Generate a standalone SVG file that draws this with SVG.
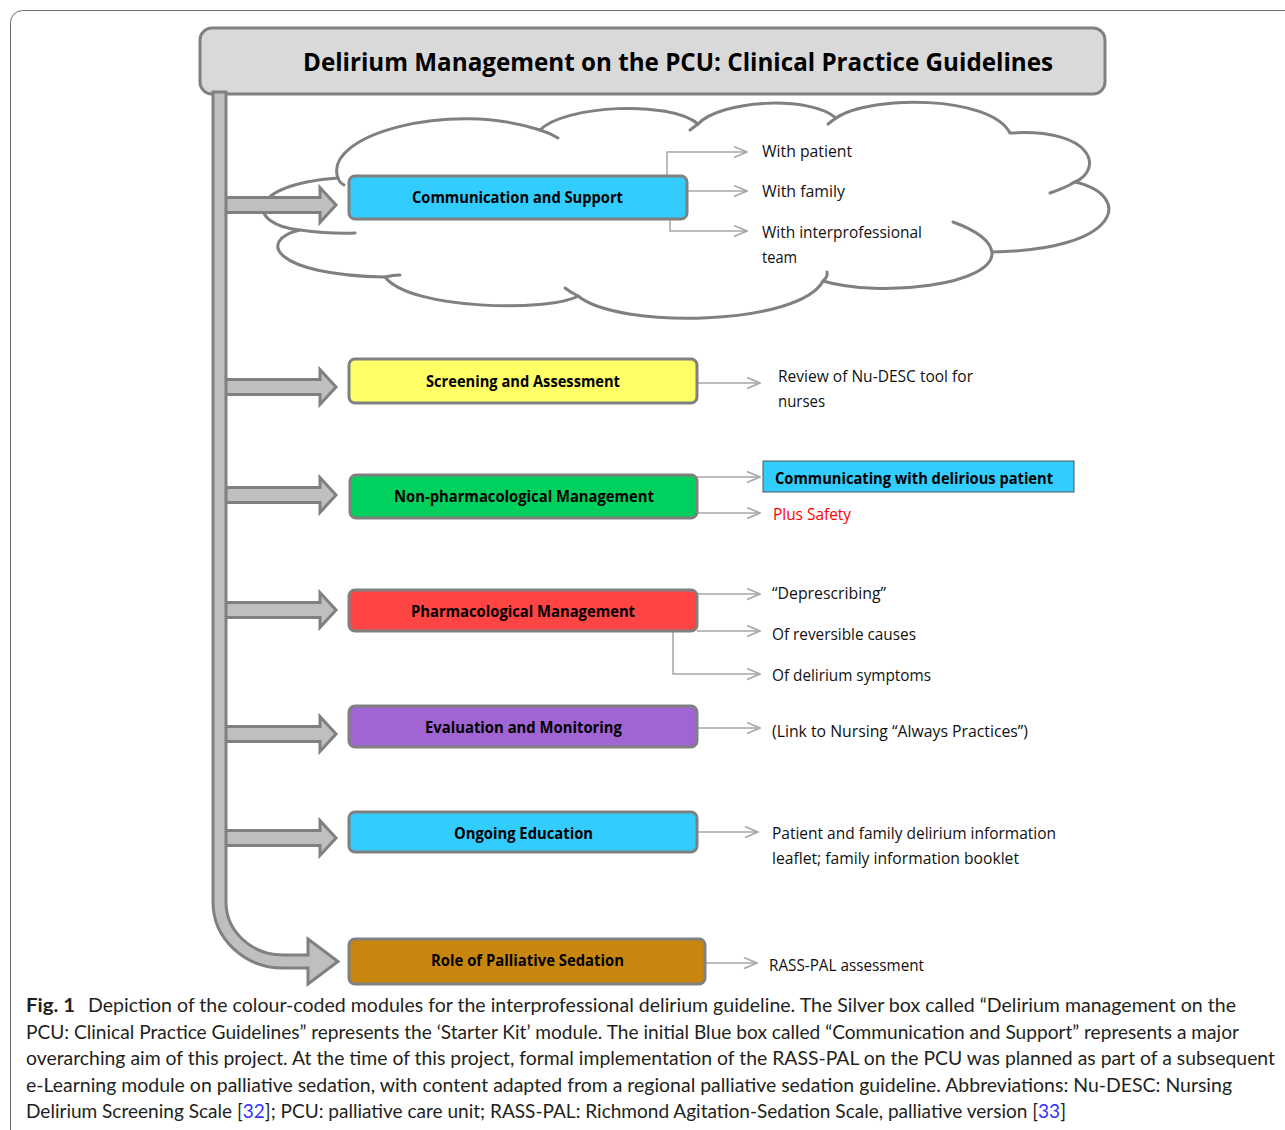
<svg xmlns="http://www.w3.org/2000/svg" width="1285" height="1130" viewBox="0 0 1285 1130">
<defs>
<style>
.box{stroke:#808080;stroke-width:3}
.lbl{font-family:"Open Sans","Liberation Sans",sans-serif;font-weight:700;font-size:15.5px;fill:#000}
.itm{font-family:"Open Sans","Liberation Sans",sans-serif;font-size:16px;fill:#111}
.cap{font-family:Lato,"Open Sans","Liberation Sans",sans-serif;font-size:19.5px;fill:#231f20}
.con{fill:none;stroke:#a6a6a6;stroke-width:1.5}
.cl{fill:none;stroke:#808080;stroke-width:3;stroke-linecap:round}
.arr{fill:#bfbfbf;stroke:#808080;stroke-width:3;stroke-linejoin:miter}
</style>
<marker id="chev" viewBox="0 0 15 13" refX="14" refY="6.5" markerWidth="15" markerHeight="13" markerUnits="userSpaceOnUse" orient="auto">
<path d="M1,1 L14,6.5 L1,12" fill="none" stroke="#a6a6a6" stroke-width="1.5"/>
</marker>
<polygon id="arrow" points="0,-7.5 96,-7.5 96,-17.5 112,0 96,17.5 96,7.5 0,7.5"/>
</defs>
<rect x="10.5" y="10.5" width="1320" height="1160" rx="12" fill="#fff" stroke="#6d6d6d" stroke-width="1"/>

<g id="cloud">
<path d="M 300 230 C 248 225, 243 185, 338 178 C 322 135, 450 100, 540 130 C 565 105, 670 100, 698 124 C 720 100, 810 95, 836 118 C 870 95, 990 95, 1010 133 C 1095 128, 1103 170, 1075 182 C 1133 195, 1123 250, 992 252 C 995 285, 880 298, 823 281 C 800 325, 620 330, 578 296 C 550 312, 410 310, 385 277 C 272 275, 257 240, 300 230 Z" fill="#fff" stroke="#808080" stroke-width="3"/>
<path class="cl" d="M 300 230 Q 330 234 355 233"/>
<path class="cl" d="M 338 178 Q 339 182 344 185"/>
<path class="cl" d="M 540 130 Q 550 133 558 138"/>
<path class="cl" d="M 698 124 Q 694 127 690 130"/>
<path class="cl" d="M 836 118 Q 832 121 828 124"/>
<path class="cl" d="M 1075 182 Q 1065 188 1050 193"/>
<path class="cl" d="M 953 222 C 975 230, 990 240, 992 252"/>
<path class="cl" d="M 823 281 Q 828 277 827 272"/>
<path class="cl" d="M 578 296 Q 570 292 565 288"/>
<path class="cl" d="M 385 277 Q 393 275 400 275"/>
</g>

<g id="title">
<rect x="200" y="28" width="905" height="66" rx="12" fill="#d9d9d9" stroke="#808080" stroke-width="3"/>
<text x="303" y="71" font-family="Open Sans, Liberation Sans, sans-serif" font-weight="700" font-size="25" textLength="750" lengthAdjust="spacingAndGlyphs" fill="#000">Delirium Management on the PCU: Clinical Practice Guidelines</text>
</g>

<g id="arrows">
<use href="#arrow" class="arr" x="224" y="205"/>
<use href="#arrow" class="arr" x="224" y="387"/>
<use href="#arrow" class="arr" x="224" y="495"/>
<use href="#arrow" class="arr" x="224" y="610"/>
<use href="#arrow" class="arr" x="224" y="734"/>
<use href="#arrow" class="arr" x="224" y="838"/>
</g>

<g id="spine">
<path class="arr" d="M 213 92 L 213 902 A 70 66 0 0 0 283 968 L 308 968 L 308 984 L 338 961.5 L 308 939 L 308 955 L 283 955 A 57 53 0 0 1 226 902 L 226 92 Z"/>
</g>

<g id="connectors">
<path class="con" marker-end="url(#chev)" d="M 667 176 V 152 H 747"/>
<path class="con" marker-end="url(#chev)" d="M 687 191 H 747"/>
<path class="con" marker-end="url(#chev)" d="M 670 219 V 231 H 747"/>
<path class="con" marker-end="url(#chev)" d="M 697 383 H 760"/>
<path class="con" marker-end="url(#chev)" d="M 697 477 H 760"/>
<path class="con" marker-end="url(#chev)" d="M 697 513 H 760"/>
<path class="con" marker-end="url(#chev)" d="M 697 594 H 760"/>
<path class="con" marker-end="url(#chev)" d="M 697 631 H 760"/>
<path class="con" marker-end="url(#chev)" d="M 673 631 V 674 H 760"/>
<path class="con" marker-end="url(#chev)" d="M 697 728 H 760"/>
<path class="con" marker-end="url(#chev)" d="M 697 832 H 758"/>
<path class="con" marker-end="url(#chev)" d="M 705 963 H 757"/>
</g>

<g id="n-communication">
<rect class="box" x="349" y="176" width="338" height="43" rx="6" fill="#33ccff"/>
<text class="lbl" x="412" y="202.5" textLength="211" lengthAdjust="spacingAndGlyphs">Communication and Support</text>
</g>
<g id="n-screening">
<rect class="box" x="349" y="359" width="348" height="44" rx="6" fill="#ffff66"/>
<text class="lbl" x="426" y="386.5" textLength="194" lengthAdjust="spacingAndGlyphs">Screening and Assessment</text>
</g>
<g id="n-nonpharm">
<rect class="box" x="350" y="475" width="347" height="43" rx="6" fill="#00d15e"/>
<text class="lbl" x="394" y="501.5" textLength="260" lengthAdjust="spacingAndGlyphs">Non-pharmacological Management</text>
</g>
<g id="n-pharm">
<rect class="box" x="349" y="590" width="348" height="41" rx="6" fill="#ff4444"/>
<text class="lbl" x="411" y="616.5" textLength="224" lengthAdjust="spacingAndGlyphs">Pharmacological Management</text>
</g>
<g id="n-eval">
<rect class="box" x="349" y="706" width="348" height="41" rx="6" fill="#a064d3"/>
<text class="lbl" x="425" y="732.5" textLength="197" lengthAdjust="spacingAndGlyphs">Evaluation and Monitoring</text>
</g>
<g id="n-education">
<rect class="box" x="349" y="812" width="348" height="40" rx="6" fill="#33ccff"/>
<text class="lbl" x="454" y="838.5" textLength="139" lengthAdjust="spacingAndGlyphs">Ongoing Education</text>
</g>
<g id="n-sedation">
<rect class="box" x="349" y="939" width="356" height="45" rx="6" fill="#c9860f"/>
<text class="lbl" x="431" y="965.5" textLength="193" lengthAdjust="spacingAndGlyphs">Role of Palliative Sedation</text>
</g>

<g id="n-communicating">
<rect x="763" y="461" width="311" height="31" fill="#33ccff" stroke="#555" stroke-width="1"/>
<text class="lbl" x="775" y="483.5" textLength="278" lengthAdjust="spacingAndGlyphs">Communicating with delirious patient</text>
</g>

<g id="items">
<text class="itm" x="762" y="156.5" textLength="90" lengthAdjust="spacingAndGlyphs">With patient</text>
<text class="itm" x="762" y="196.5" textLength="83" lengthAdjust="spacingAndGlyphs">With family</text>
<text class="itm" x="762" y="237.5" textLength="160" lengthAdjust="spacingAndGlyphs">With interprofessional</text>
<text class="itm" x="762" y="262.5" textLength="35" lengthAdjust="spacingAndGlyphs">team</text>
<text class="itm" x="778" y="381.5" textLength="195" lengthAdjust="spacingAndGlyphs">Review of Nu-DESC tool for</text>
<text class="itm" x="778" y="406.5" textLength="47" lengthAdjust="spacingAndGlyphs">nurses</text>
<text class="itm" x="773" y="519.5" textLength="78" lengthAdjust="spacingAndGlyphs" style="fill:#ff0000">Plus Safety</text>
<text class="itm" x="772" y="598.5" textLength="114" lengthAdjust="spacingAndGlyphs">“Deprescribing”</text>
<text class="itm" x="772" y="639.5" textLength="144" lengthAdjust="spacingAndGlyphs">Of reversible causes</text>
<text class="itm" x="772" y="680.5" textLength="159" lengthAdjust="spacingAndGlyphs">Of delirium symptoms</text>
<text class="itm" x="772" y="736.5" textLength="256" lengthAdjust="spacingAndGlyphs">(Link to Nursing “Always Practices”)</text>
<text class="itm" x="772" y="838.5" textLength="284" lengthAdjust="spacingAndGlyphs">Patient and family delirium information</text>
<text class="itm" x="772" y="863.5" textLength="247" lengthAdjust="spacingAndGlyphs">leaflet; family information booklet</text>
<text class="itm" x="769" y="970.5" textLength="155" lengthAdjust="spacingAndGlyphs">RASS-PAL assessment</text>
</g>

<g id="caption">
<text class="cap" x="26" y="1012" font-weight="700" textLength="49" lengthAdjust="spacingAndGlyphs">Fig. 1</text>
<text class="cap" x="88" y="1012" textLength="1148" lengthAdjust="spacingAndGlyphs">Depiction of the colour-coded modules for the interprofessional delirium guideline. The Silver box called “Delirium management on the</text>
<text class="cap" x="26" y="1038.5" textLength="1213" lengthAdjust="spacingAndGlyphs">PCU: Clinical Practice Guidelines” represents the ‘Starter Kit’ module. The initial Blue box called “Communication and Support” represents a major</text>
<text class="cap" x="26" y="1065" textLength="1249" lengthAdjust="spacingAndGlyphs">overarching aim of this project. At the time of this project, formal implementation of the RASS-PAL on the PCU was planned as part of a subsequent</text>
<text class="cap" x="26" y="1091.5" textLength="1206" lengthAdjust="spacingAndGlyphs">e-Learning module on palliative sedation, with content adapted from a regional palliative sedation guideline. Abbreviations: Nu-DESC: Nursing</text>
<text class="cap" x="26" y="1118" textLength="1040" lengthAdjust="spacingAndGlyphs">Delirium Screening Scale [<tspan fill="#3333ff">32</tspan>]; PCU: palliative care unit; RASS-PAL: Richmond Agitation-Sedation Scale, palliative version [<tspan fill="#3333ff">33</tspan>]</text>
</g>
</svg>
